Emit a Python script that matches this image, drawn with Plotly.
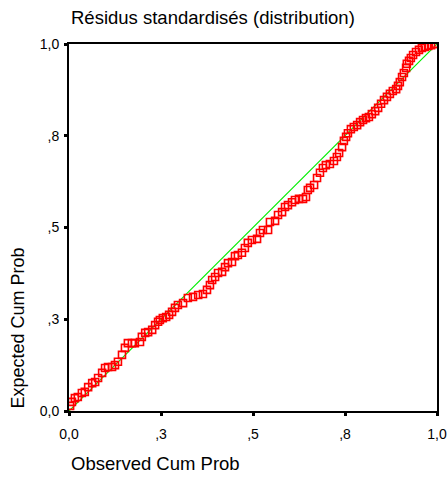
import plotly.graph_objects as go

# P-P plot of standardised residuals
observed_cum_prob = [
    0.003, 0.008, 0.016, 0.024, 0.035, 0.043, 0.052, 0.063, 0.071, 0.079,
    0.090, 0.098, 0.106, 0.117, 0.125, 0.133, 0.144, 0.152, 0.160, 0.171,
    0.179, 0.193, 0.198, 0.207, 0.215, 0.226, 0.234, 0.242, 0.247, 0.255,
    0.264, 0.272, 0.280, 0.288, 0.296, 0.310, 0.323, 0.337, 0.351, 0.364,
    0.375, 0.383, 0.389, 0.397, 0.405, 0.416, 0.424, 0.432, 0.443, 0.451,
    0.459, 0.470, 0.478, 0.486, 0.497, 0.511, 0.519, 0.527, 0.541, 0.546,
    0.560, 0.568, 0.579, 0.587, 0.595, 0.606, 0.614, 0.625, 0.636, 0.644,
    0.649, 0.655, 0.666, 0.674, 0.682, 0.690, 0.698, 0.709, 0.720, 0.728,
    0.734, 0.742, 0.747, 0.753, 0.758, 0.766, 0.774, 0.783, 0.791, 0.799,
    0.807, 0.815, 0.823, 0.832, 0.840, 0.848, 0.856, 0.864, 0.872, 0.880,
    0.889, 0.894, 0.899, 0.905, 0.910, 0.916, 0.918, 0.924, 0.929, 0.935,
    0.943, 0.951, 0.959, 0.967, 0.976, 0.984, 0.992, 0.997,
]
expected_cum_prob = [
    0.014, 0.025, 0.035, 0.038, 0.049, 0.052, 0.065, 0.076, 0.079, 0.090,
    0.104, 0.117, 0.120, 0.120, 0.125, 0.134, 0.153, 0.172, 0.185, 0.185,
    0.185, 0.188, 0.202, 0.213, 0.215, 0.221, 0.234, 0.243, 0.248, 0.253,
    0.256, 0.262, 0.270, 0.281, 0.289, 0.294, 0.308, 0.311, 0.316, 0.319,
    0.330, 0.343, 0.357, 0.365, 0.376, 0.379, 0.392, 0.403, 0.406, 0.422,
    0.425, 0.431, 0.444, 0.458, 0.466, 0.469, 0.485, 0.493, 0.493, 0.515,
    0.518, 0.534, 0.542, 0.556, 0.561, 0.569, 0.575, 0.578, 0.578, 0.583,
    0.602, 0.608, 0.616, 0.635, 0.649, 0.662, 0.670, 0.673, 0.681, 0.692,
    0.703, 0.719, 0.736, 0.747, 0.757, 0.768, 0.774, 0.779, 0.787, 0.793,
    0.798, 0.801, 0.809, 0.817, 0.826, 0.837, 0.847, 0.856, 0.864, 0.872,
    0.877, 0.886, 0.896, 0.910, 0.921, 0.935, 0.946, 0.954, 0.962, 0.970,
    0.978, 0.984, 0.989, 0.992, 0.995, 0.997, 1.000, 1.000,
]
diag = [0, 1]
tick_vals = [0, 0.25, 0.5, 0.75, 1.0]
tick_text = ['0,0', ',3', ',5', ',8', '1,0']

font = 'Liberation Sans, Arial, sans-serif'

fig = go.Figure()
fig.add_trace(go.Scatter(x=diag, y=diag, mode='lines',
                         line=dict(color='#00ee00', width=1.2),
                         hoverinfo='skip'))
fig.add_trace(go.Scatter(x=observed_cum_prob, y=expected_cum_prob,
                         mode='markers',
                         marker=dict(symbol='square-open', size=7,
                                     color='#ff0000',
                                     line=dict(width=1.6, color='#ff0000'))))

axis = dict(range=[0, 1], tickvals=tick_vals, ticktext=tick_text,
            showgrid=False, zeroline=False, showline=True, mirror=True,
            linecolor='black', linewidth=2, ticks='outside', ticklen=3,
            tickwidth=3, tickcolor='black', automargin=False,
            tickfont=dict(family=font, size=14, color='black'))

fig.update_layout(
    width=448, height=482,
    margin=dict(l=69, r=11, t=44, b=71),
    paper_bgcolor='white', plot_bgcolor='white',
    showlegend=False,
    font=dict(family=font, color='black'),
    xaxis=dict(axis, ticklabelstandoff=6),
    yaxis=dict(axis, ticklabelstandoff=2),
    annotations=[
        dict(text='Résidus standardisés (distribution)', xref='paper', yref='paper',
             x=0, y=1.071, xanchor='left', yanchor='middle', showarrow=False,
             font=dict(family=font, size=18.5)),
        dict(text='Observed Cum Prob', xref='paper', yref='paper',
             x=0, y=-0.142, xanchor='left', yanchor='middle', showarrow=False,
             font=dict(family=font, size=18.5)),
        dict(text='Expected Cum Prob', xref='paper', yref='paper',
             x=-0.141, y=0, xanchor='center', yanchor='bottom', textangle=-90,
             showarrow=False, font=dict(family=font, size=18)),
    ],
)

fig.write_html("out.html", config={'displayModeBar': False},
               post_script="document.body.style.margin='0';")
